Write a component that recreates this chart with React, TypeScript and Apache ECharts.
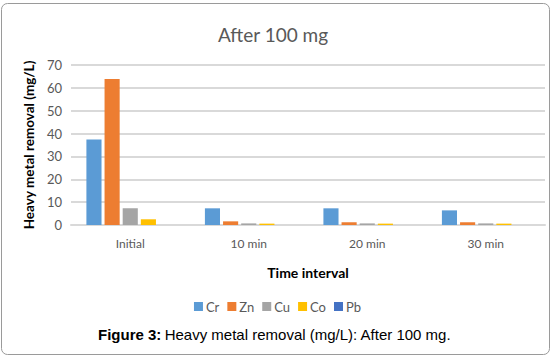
import React, { useEffect, useRef } from "react";
import * as echarts from "echarts";

const categories = ["Initial", "10 min", "20 min", "30 min"];
const seriesNames = ["Cr", "Zn", "Cu", "Co", "Pb"];
const crValues = [37.4, 7.3, 7.3, 6.4];
const znValues = [63.9, 1.6, 1.2, 1.2];
const cuValues = [7.3, 0.7, 0.7, 0.7];
const coValues = [2.5, 0.6, 0.6, 0.6];
const pbValues = [0, 0, 0, 0];
const seriesColors = ["#5b9bd5", "#ed7d31", "#a5a5a5", "#ffc000", "#4472c4"];
const yTicks = { min: 0, max: 70, interval: 10 };

export default function App() {
  const ref = useRef<HTMLDivElement>(null);
  useEffect(() => {
    if (!ref.current) return;
    const chart = echarts.init(ref.current, undefined, { renderer: "svg" });
    const values = [crValues, znValues, cuValues, coValues, pbValues];
    const font = "Lato, 'Open Sans', sans-serif";
    chart.setOption({
      animation: false,
      backgroundColor: "#ffffff",
      textStyle: { fontFamily: font },
      title: {
        text: "After 100 mg",
        left: 268,
        textAlign: "center",
        top: 20,
        textStyle: { fontFamily: font, fontSize: 19, fontWeight: "normal", color: "#595959" },
      },
      legend: {
        data: seriesNames,
        left: "center",
        top: 295,
        itemWidth: 9,
        itemHeight: 9,
        itemGap: 8,
        icon: "rect",
        textStyle: { fontFamily: font, fontSize: 13, color: "#595959", padding: [0, 0, 0, -2] },
      },
      grid: { left: 71, right: 10, top: 65, bottom: 135, containLabel: false },
      xAxis: {
        type: "category",
        data: categories,
        name: "Time interval",
        nameLocation: "middle",
        nameGap: 40,
        nameTextStyle: { fontFamily: font, fontSize: 14, fontWeight: "bold", color: "#000000" },
        axisLine: { show: true, lineStyle: { color: "#d9d9d9", width: 2 } },
        axisTick: { show: false },
        axisLabel: { fontFamily: font, fontSize: 12, color: "#595959", margin: 12 },
      },
      yAxis: {
        type: "value",
        min: yTicks.min,
        max: yTicks.max,
        interval: yTicks.interval,
        name: "Heavy metal removal (mg/L)",
        nameLocation: "middle",
        nameGap: 33,
        nameRotate: 90,
        nameTextStyle: { fontFamily: font, fontSize: 13.5, fontWeight: "bold", color: "#000000" },
        axisLine: { show: false },
        axisTick: { show: false },
        axisLabel: { fontFamily: font, fontSize: 13, color: "#595959", margin: 9 },
        splitLine: { lineStyle: { color: "#d9d9d9", width: 2 } },
      },
      series: seriesNames.map((name, i) => ({
        name,
        type: "bar",
        data: values[i],
        itemStyle: { color: seriesColors[i] },
        barGap: "20%",
        barCategoryGap: "26%",
      })),
      graphic: [
        {
          type: "rect",
          shape: { x: 1.5, y: 3.5, width: 548, height: 351, r: 6 },
          style: { fill: "none", stroke: "#9a9a9a", lineWidth: 1 },
          silent: true,
          z: 100,
        },
        {
          type: "text",
          left: 98,
          top: 327,
          style: {
            text: "{b|Figure 3:} {n|Heavy metal removal (mg/L): After 100 mg.}",
            rich: {
              b: { fontFamily: "'Liberation Sans', Arial, sans-serif", fontSize: 15, fontWeight: "bold", fill: "#000" },
              n: { fontFamily: "'Liberation Sans', Arial, sans-serif", fontSize: 15, fill: "#000" },
            },
          },
        },
      ],
    });
    return () => chart.dispose();
  }, []);
  return (
    <div
      ref={ref}
      style={{ position: "fixed", left: 0, top: 0, width: 555, height: 360 }}
    />
  );
}
